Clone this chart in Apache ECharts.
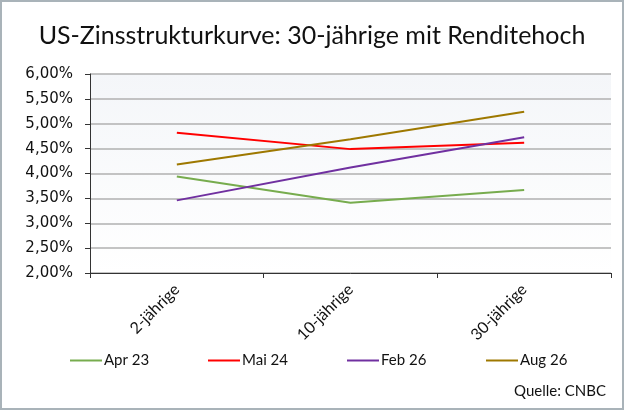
<!DOCTYPE html>
<html>
<head>
<meta charset="utf-8">
<script src="https://cdn.jsdelivr.net/npm/echarts@6/dist/echarts.min.js"></script>
<style>
  html, body { margin: 0; padding: 0; background: #fff; }
  #chart { width: 624px; height: 410px; box-sizing: border-box; border: 2px solid #a9b3b9; }
</style>
</head>
<body>
<div id="chart"></div>
<script>
var laufzeiten = ["2-jährige", "10-jährige", "30-jährige"];
var apr23 = [3.94, 3.41, 3.67];
var mai24 = [4.82, 4.49, 4.62];
var feb26 = [3.46, 4.12, 4.73];
var aug26 = [4.18, 4.69, 5.24];
var serienNamen = ["Apr 23", "Mai 24", "Feb 26", "Aug 26"];
var farben = ["#77ac4e", "#ff0000", "#7030a0", "#9e7800"];

var chart = echarts.init(document.getElementById("chart"));

function linie(name, daten, farbe) {
  return {
    name: name,
    type: "line",
    data: daten,
    symbol: "none",
    lineStyle: { color: farbe, width: 2 },
    itemStyle: { color: farbe },
  };
}

// legend items sit at fixed positions like in the Excel original
var legendLeft = [63, 201, 340, 479];

var option = {
  animation: false,
  title: {
    text: "US-Zinsstrukturkurve: 30-jährige mit Renditehoch",
    left: "center",
    top: 16,
    textStyle: { fontFamily: "Lato", fontSize: 25, fontWeight: "normal", color: "#111" },
  },
  legend: serienNamen.map(function (n, i) {
    return {
      data: [n],
      left: legendLeft[i],
      top: 346,
      icon: "rect",
      itemWidth: 32,
      itemHeight: 2,
      itemGap: 4,
      textStyle: { fontFamily: "Lato", fontSize: 15, color: "#111", padding: [0, 0, 0, -3] },
    };
  }),
  graphic: [
    {
      type: "text",
      right: 16,
      top: 382,
      style: { text: "Quelle: CNBC", font: "15px Lato", fill: "#111" },
    },
  ],
  grid: {
    left: 88,
    right: 11,
    top: 72,
    bottom: 135,
    show: true,
    borderWidth: 0,
    backgroundColor: {
      type: "linear", x: 0, y: 0, x2: 0, y2: 1,
      colorStops: [
        { offset: 0, color: "#f4f6f9" },
        { offset: 1, color: "#ffffff" },
      ],
    },
  },
  xAxis: {
    type: "category",
    data: laufzeiten,
    boundaryGap: true,
    axisLine: { lineStyle: { color: "#333", width: 1 } },
    axisTick: { show: true, length: 5, alignWithLabel: false, lineStyle: { color: "#333" } },
    axisLabel: { rotate: 45, fontFamily: "Lato", fontSize: 16, color: "#111", margin: 14 },
  },
  yAxis: {
    type: "value",
    min: 2,
    max: 6,
    interval: 0.5,
    axisLine: { show: true, lineStyle: { color: "#333", width: 1 } },
    axisTick: { show: true, length: 5, lineStyle: { color: "#333" } },
    splitLine: { lineStyle: { color: "#b0b0b0", width: 1.5 } },
    axisLabel: {
      fontFamily: "DejaVu Sans",
      fontSize: 15,
      color: "#111",
      margin: 17,
      formatter: function (v) { return v.toFixed(2).replace(".", ",") + "%"; },
    },
  },
  series: [
    linie(serienNamen[0], apr23, farben[0]),
    linie(serienNamen[1], mai24, farben[1]),
    linie(serienNamen[2], feb26, farben[2]),
    linie(serienNamen[3], aug26, farben[3]),
  ],
};

chart.setOption(option);
</script>
</body>
</html>
